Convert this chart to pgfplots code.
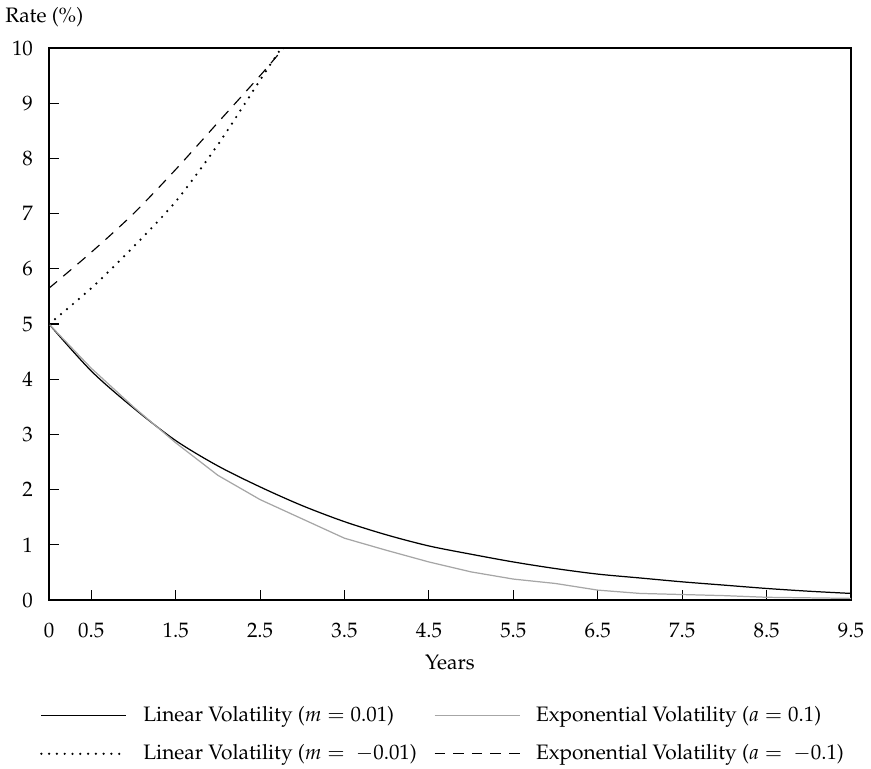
\documentclass[border=0pt]{standalone}
\usepackage[T1]{fontenc}
\usepackage{mathpazo}
\usepackage{pgfplots}
\pgfplotsset{compat=1.18}
\pgfplotstableread{
x y
0.0 5.00
0.5 4.15
1.0 3.48
1.5 2.89
2.0 2.43
2.5 2.05
3.0 1.71
3.5 1.42
4.0 1.18
4.5 0.98
5.0 0.83
5.5 0.69
6.0 0.57
6.5 0.47
7.0 0.40
7.5 0.33
8.0 0.27
8.5 0.21
9.0 0.16
9.5 0.12
}\linpos
\pgfplotstableread{
x y
0.0 5.00
0.5 4.20
1.0 3.50
1.5 2.85
2.0 2.26
2.5 1.82
3.0 1.47
3.5 1.12
4.0 0.90
4.5 0.69
5.0 0.51
5.5 0.38
6.0 0.30
6.5 0.18
7.0 0.12
7.5 0.10
8.0 0.08
8.5 0.05
9.0 0.04
9.5 0.03
}\exppos
\pgfplotstableread{
x y
0.0 5.00
0.5 5.65
1.0 6.40
1.5 7.22
2.0 8.25
2.5 9.42
2.75 10.00
2.85 10.25
}\linneg
\pgfplotstableread{
x y
0.0 5.65
0.5 6.30
1.0 7.00
1.5 7.80
2.0 8.65
2.5 9.50
2.78 10.00
2.85 10.12
}\expneg
\begin{document}
\fontsize{11pt}{13pt}\selectfont
\begin{tikzpicture}
\useasboundingbox (-25.8pt,-88.9pt) rectangle (432.6pt,315.8pt);
\begin{axis}[
  at={(0pt,0pt)}, anchor=south west,
  scale only axis, width=422.1pt, height=290.5pt,
  xmin=0, xmax=9.5, ymin=0, ymax=10,
  xtick={0,0.5,1.5,2.5,3.5,4.5,5.5,6.5,7.5,8.5,9.5},
  xticklabels={0,0.5,1.5,2.5,3.5,4.5,5.5,6.5,7.5,8.5,9.5},
  ytick={0,1,2,3,4,5,6,7,8,9,10},
  tick align=inside, tick pos=left,
  major tick length=5.5pt,
  axis line style={line width=0.8pt},
  every tick/.style={black, line width=0.6pt},
  xticklabel style={yshift=-8pt},
  yticklabel style={xshift=-4.6pt},
  legend columns=2, legend cell align=left,
  legend style={draw=none, fill=none, inner sep=0pt, outer sep=0pt,
    at={(axis description cs:0,0)}, anchor=north west,
    xshift=-4.7pt, yshift=-56pt,
    column sep=8.4pt, row sep=10.5pt,
    nodes={inner sep=0pt},
    /tikz/every even column/.append style={column sep=9pt}},
  legend image code/.code={\draw[#1] (0pt,0pt) -- (44.7pt,0pt);},
]
\addplot[black, line width=0.65pt, smooth] table {\linpos};
\addlegendentry{Linear Volatility ($m = 0.01$)}
\addplot[gray!70, line width=0.65pt] table {\exppos};
\addlegendentry{Exponential Volatility ($a = 0.1$)}
\addplot[black, line width=1.3pt, line cap=round, dash pattern=on 0pt off 4.1pt, smooth] table {\linneg};
\addlegendentry{Linear Volatility ($m =\ -0.01$)}
\addplot[black, line width=0.6pt, dash pattern=on 5.5pt off 4.3pt, smooth] table {\expneg};
\addlegendentry{Exponential Volatility ($a =\ -0.1$)}
\end{axis}
\node[anchor=west, inner sep=0pt] at (-23.2pt,306.8pt) {Rate (\%)};
\node[anchor=center, inner sep=0pt] at (211pt,-33pt) {Years};
\end{tikzpicture}
\end{document}
